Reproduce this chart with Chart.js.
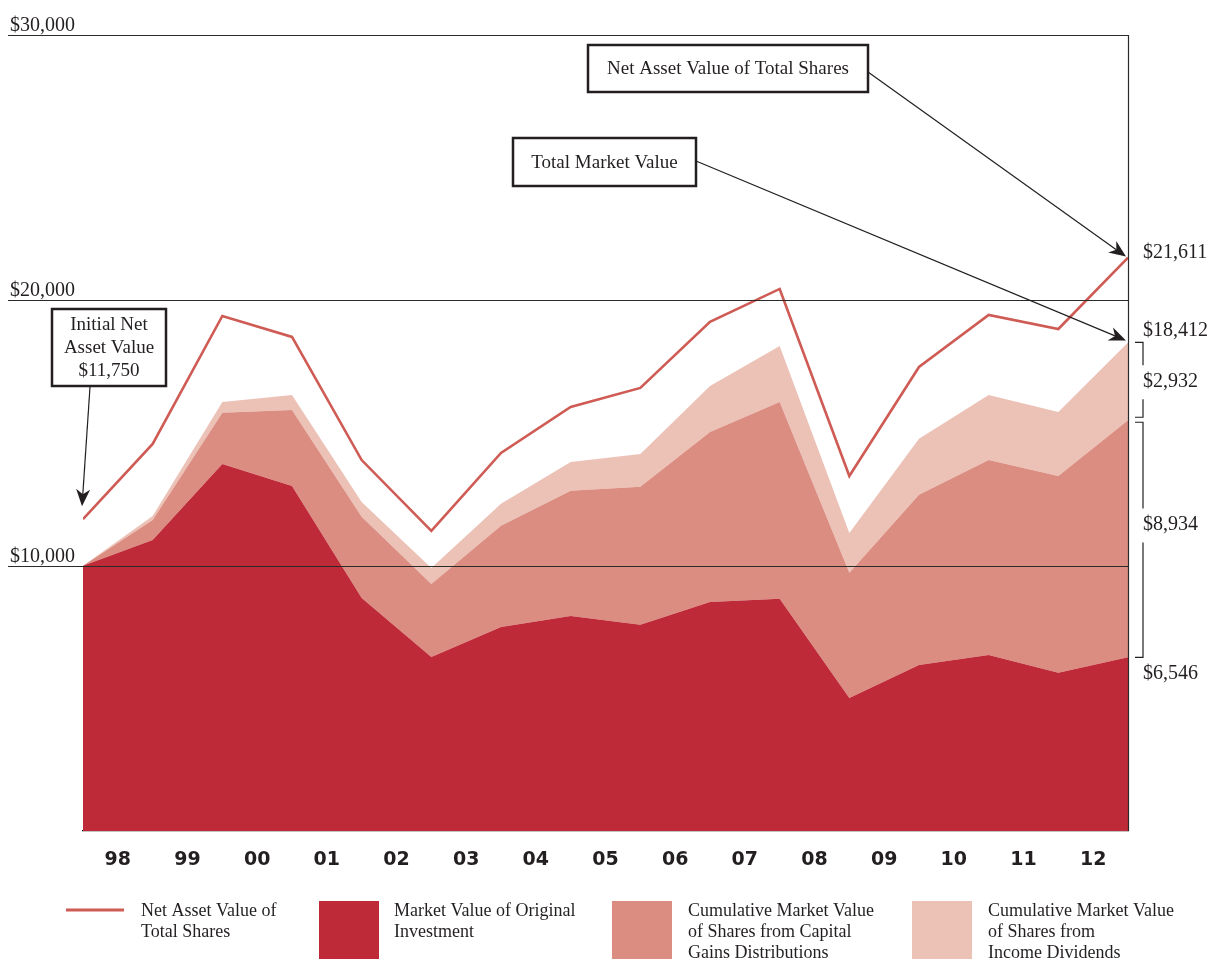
<!DOCTYPE html>
<html>
<head>
<meta charset="utf-8">
<script src="https://cdn.jsdelivr.net/npm/chart.js@4.4.1/dist/chart.umd.min.js"></script>
<style>
  html, body { margin: 0; padding: 0; background: #fff; }
  #wrap { position: relative; width: 1212px; height: 959px; }
</style>
</head>
<body>
<div id="wrap"><canvas id="chart"></canvas></div>
<script>
// year labels sit between the 16 year-end points
const years = ['98', '99', '00', '01', '02', '03', '04', '05', '06', '07', '08', '09', '10', '11', '12'];
const navTotal = [11750, 14590, 19410, 18620, 13980, 11310, 14250, 15980, 16700, 19190, 20430, 13380, 17490, 19450, 18920, 21611];
const originalInvestment = [10000, 10970, 13830, 13000, 8780, 6560, 7690, 8100, 7770, 8630, 8750, 5010, 6260, 6630, 5960, 6546];
const capitalGains = [0, 750, 1930, 2870, 3060, 2750, 3810, 4720, 5200, 6410, 7420, 4720, 6410, 7350, 7420, 8934];
const incomeDividends = [0, 150, 410, 560, 560, 600, 830, 1090, 1240, 1730, 2110, 1500, 2110, 2450, 2410, 2932];
const gridValues = [10000, 20000, 30000];
const gridLabels = ['$10,000', '$20,000', '$30,000'];
const legendNames = [
  ['Net Asset Value of', 'Total Shares'],
  ['Market Value of Original', 'Investment'],
  ['Cumulative Market Value', 'of Shares from Capital', 'Gains Distributions'],
  ['Cumulative Market Value', 'of Shares from', 'Income Dividends']
];

const INK = '#231f20';
const SERIF = '"Liberation Serif", "Times New Roman", serif';
const COLORS = { nav: '#cf5b55', original: '#be2a37', capital: '#dc8d82', dividend: '#ecc2b7' };

const pts = arr => arr.map((v, i) => ({ x: i, y: v }));
const fmt = v => '$' + v.toLocaleString('en-US');

function arrow(ctx, x1, y1, x2, y2) {
  const a = Math.atan2(y2 - y1, x2 - x1);
  const len = 17, half = 7;
  const cos = Math.cos(a), sin = Math.sin(a);
  const bx = x2 - len * cos, by = y2 - len * sin;
  const nx = x2 - len * 0.7 * cos, ny = y2 - len * 0.7 * sin;
  ctx.beginPath();
  ctx.moveTo(x1, y1);
  ctx.lineTo(nx, ny);
  ctx.lineWidth = 1.2;
  ctx.strokeStyle = INK;
  ctx.stroke();
  ctx.beginPath();
  ctx.moveTo(x2, y2);
  ctx.lineTo(bx - half * sin, by + half * cos);
  ctx.lineTo(nx, ny);
  ctx.lineTo(bx + half * sin, by - half * cos);
  ctx.closePath();
  ctx.fillStyle = INK;
  ctx.fill();
}

function box(ctx, x, y, w, h, lines, lineH) {
  ctx.lineWidth = 2.5;
  ctx.strokeStyle = INK;
  ctx.strokeRect(x, y, w, h);
  ctx.font = '19px ' + SERIF;
  ctx.fillStyle = INK;
  ctx.textAlign = 'center';
  ctx.textBaseline = 'middle';
  const cy = y + h / 2 - (lines.length - 1) * lineH / 2;
  lines.forEach((t, i) => ctx.fillText(t, x + w / 2, cy + i * lineH + 1));
}

const gridPlugin = {
  id: 'gridLines',
  afterDatasetsDraw(chart) {
    const { ctx, chartArea, scales: { y } } = chart;
    ctx.save();
    ctx.strokeStyle = '#2a2a2a';
    ctx.lineWidth = 1.2;
    ctx.font = '20px ' + SERIF;
    ctx.fillStyle = INK;
    ctx.textAlign = 'left';
    ctx.textBaseline = 'alphabetic';
    gridValues.forEach((v, i) => {
      const py = Math.round(y.getPixelForValue(v)) + 0.5;
      ctx.beginPath();
      ctx.moveTo(8, py);
      ctx.lineTo(chartArea.right, py);
      ctx.stroke();
      ctx.fillText(gridLabels[i], 10, py - 5);
    });
    // right frame line
    ctx.beginPath();
    ctx.lineWidth = 1.2;
    ctx.moveTo(chartArea.right + 0.5, y.getPixelForValue(30000));
    ctx.lineTo(chartArea.right + 0.5, chartArea.bottom);
    ctx.stroke();
    ctx.restore();
  }
};

const notesPlugin = {
  id: 'notes',
  afterDraw(chart) {
    const { ctx, chartArea, scales: { x, y } } = chart;
    const last = navTotal.length - 1;
    const capTop = originalInvestment[last] + capitalGains[last];
    const totalEnd = capTop + incomeDividends[last];
    const xr = x.getPixelForValue(last);
    ctx.save();

    // callout boxes and arrows
    box(ctx, 588, 45, 280, 47, ['Net Asset Value of Total Shares'], 0);
    arrow(ctx, 868, 72, xr - 2, y.getPixelForValue(navTotal[last]) - 1);
    box(ctx, 513, 138, 183, 48, ['Total Market Value'], 0);
    arrow(ctx, 696, 161, xr - 2, y.getPixelForValue(totalEnd) - 2);
    box(ctx, 52, 309, 114, 77, ['Initial Net', 'Asset Value', fmt(navTotal[0])], 23);
    arrow(ctx, 90, 387, x.getPixelForValue(0) - 1, y.getPixelForValue(navTotal[0]) - 13);

    // right side values
    ctx.font = '20px ' + SERIF;
    ctx.fillStyle = INK;
    ctx.textAlign = 'left';
    ctx.textBaseline = 'middle';
    const lx = 1143;
    const yNav = y.getPixelForValue(navTotal[last]);
    const yTot = y.getPixelForValue(totalEnd);
    const yCap = y.getPixelForValue(capTop);
    const yOrig = y.getPixelForValue(originalInvestment[last]);
    ctx.fillText(fmt(navTotal[last]), lx, yNav - 5);
    ctx.fillText(fmt(totalEnd), lx, yTot - 12);
    const yDivLbl = (yTot + yCap) / 2;
    const yCapLbl = yCap + (yOrig - yCap) * 0.44;
    ctx.fillText(fmt(incomeDividends[last]), lx, yDivLbl);
    ctx.fillText(fmt(capitalGains[last]), lx, yCapLbl);
    ctx.fillText(fmt(originalInvestment[last]), lx, yOrig + 16);

    // brackets
    ctx.strokeStyle = INK;
    ctx.lineWidth = 1.2;
    const bracket = (top, bottom, gapMid) => {
      ctx.beginPath();
      ctx.moveTo(1135, top); ctx.lineTo(1143, top); ctx.lineTo(1143, gapMid - 16);
      ctx.moveTo(1143, gapMid + 18); ctx.lineTo(1143, bottom); ctx.lineTo(1135, bottom);
      ctx.stroke();
    };
    bracket(yTot, yCap - 3, yDivLbl);
    bracket(yCap + 2, yOrig, yCapLbl);

    // legend
    const lgY = 901;
    ctx.font = '18px ' + SERIF;
    ctx.textBaseline = 'middle';
    ctx.lineWidth = 3;
    ctx.strokeStyle = COLORS.nav;
    ctx.beginPath(); ctx.moveTo(66, 910); ctx.lineTo(124, 910); ctx.stroke();
    const swatch = [null, COLORS.original, COLORS.capital, COLORS.dividend];
    const lgX = [66, 319, 612, 912];
    const txtX = [141, 394, 688, 988];
    legendNames.forEach((lines, i) => {
      if (swatch[i]) {
        ctx.fillStyle = swatch[i];
        ctx.fillRect(lgX[i], lgY, 60, 60);
      }
      ctx.fillStyle = INK;
      lines.forEach((t, j) => ctx.fillText(t, txtX[i], 911 + j * 21));
    });
    ctx.restore();
  }
};

new Chart(document.getElementById('chart'), {
  type: 'line',
  data: {
    datasets: [
      { label: 'Net Asset Value of Total Shares', data: pts(navTotal), stack: 'nav',
        borderColor: COLORS.nav, borderWidth: 2.6, fill: false, pointRadius: 0, tension: 0 },
      { label: 'Market Value of Original Investment', data: pts(originalInvestment), stack: 'mv',
        backgroundColor: COLORS.original, borderColor: COLORS.original, borderWidth: 0, fill: 'origin', pointRadius: 0 },
      { label: 'Cumulative Market Value of Shares from Capital Gains Distributions', data: pts(capitalGains), stack: 'mv',
        backgroundColor: COLORS.capital, borderColor: COLORS.capital, borderWidth: 0, fill: '-1', pointRadius: 0 },
      { label: 'Cumulative Market Value of Shares from Income Dividends', data: pts(incomeDividends), stack: 'mv',
        backgroundColor: COLORS.dividend, borderColor: COLORS.dividend, borderWidth: 0, fill: '-1', pointRadius: 0 }
    ]
  },
  options: {
    responsive: true,
    maintainAspectRatio: false,
    animation: false,
    layout: { padding: { left: 83, right: 84, top: 35, bottom: 88 } },
    plugins: { legend: { display: false }, tooltip: { enabled: false } },
    scales: {
      x: {
        type: 'linear', min: 0, max: years.length,
        afterBuildTicks: s => { s.ticks = years.map((_, i) => ({ value: i + 0.5 })); },
        afterFit: s => { s.height = 40; },
        grid: { display: false, drawTicks: false, tickLength: 0 },
        border: { display: true, color: '#111', width: 1.2 },
        ticks: {
          autoSkip: false, maxRotation: 0, padding: 18, color: INK,
          font: { family: '"DejaVu Sans", sans-serif', size: 19, weight: 'bold' },
          callback: (v, i) => years[i]
        }
      },
      y: { display: false, stacked: true, min: 0, max: 30000 }
    }
  },
  plugins: [gridPlugin, notesPlugin]
});
</script>
</body>
</html>
